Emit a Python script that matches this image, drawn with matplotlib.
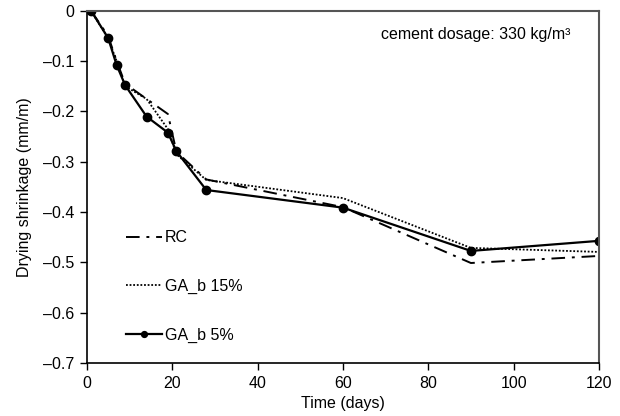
import numpy as np
import matplotlib.pyplot as plt

plt.rcParams['font.family'] = ['Liberation Sans', 'DejaVu Sans']
plt.rcParams['font.size'] = 11.5

# Data
days = [1, 5, 7, 9, 14, 19, 21, 28, 60, 90, 120]
rc = [0, -0.05, -0.10, -0.145, -0.175, -0.205, -0.28, -0.335, -0.39, -0.501, -0.487]
ga15 = [0, -0.055, -0.10, -0.15, -0.175, -0.235, -0.285, -0.336, -0.372, -0.471, -0.479]
ga5 = [0, -0.054, -0.108, -0.148, -0.21, -0.242, -0.279, -0.356, -0.391, -0.477, -0.457]

yticks = [0, -0.1, -0.2, -0.3, -0.4, -0.5, -0.6, -0.7]
ytick_labels = ['0', '\u20130.1', '\u20130.2', '\u20130.3', '\u20130.4', '\u20130.5', '\u20130.6', '\u20130.7']
xticks = [0, 20, 40, 60, 80, 100, 120]

fig = plt.figure(figsize=(6.2, 4.16), dpi=100)
ax = fig.add_axes([0.140, 0.127, 0.826, 0.847])

ax.plot(days, rc, color='black', linestyle=(0, (7, 3.5, 1.5, 3.5)), linewidth=1.4, label='RC')
ax.plot(days, ga15, color='black', linestyle=(0, (1, 1)), linewidth=1.3, label='GA_b 15%')
ax.plot(days, ga5, color='black', linestyle='-', linewidth=1.6, marker='o', markersize=6, label='GA_b 5%')

ax.set_xlim(0, 120)
ax.set_ylim(-0.7, 0)
ax.set_xticks(xticks)
ax.set_yticks(yticks)
ax.set_yticklabels(ytick_labels)
ax.tick_params(direction='out', length=5, width=1, colors='black', pad=4)

for s in ['top', 'right']:
    ax.spines[s].set_color('#555555')
    ax.spines[s].set_linewidth(1.5)
for s in ['left', 'bottom']:
    ax.spines[s].set_linewidth(1.2)

ax.set_xlabel('Time (days)', labelpad=4)
ax.set_ylabel('Drying shrinkage (mm/m)', labelpad=8)

ax.text(0.945, 0.955, 'cement dosage: 330 kg/m\u00b3', transform=ax.transAxes,
        ha='right', va='top')

ax.legend(loc='lower left', bbox_to_anchor=(0.06, 0.035), frameon=False,
          labelspacing=2.1, handlelength=2.3, handletextpad=0.15, borderpad=0,
          markerscale=0.7)

fig.savefig('out.png', dpi=100)
